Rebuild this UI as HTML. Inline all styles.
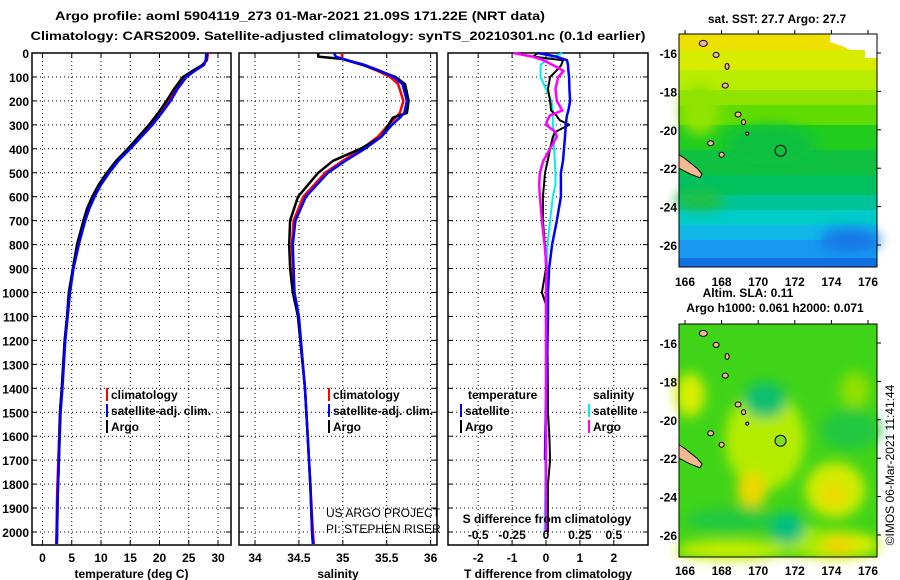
<!DOCTYPE html>
<html><head><meta charset="utf-8"><style>
body{margin:0;background:#fff;}
svg{display:block;font-family:"Liberation Sans",Arial,sans-serif;}
text{font-weight:bold;font-size:12px;fill:#000;}
</style></head><body>
<svg id="c" width="900" height="580" viewBox="0 0 900 580" xmlns="http://www.w3.org/2000/svg">
<defs>
<radialGradient id="yb" cx="0.5" cy="0.5" r="0.5"><stop offset="0" stop-color="#f0d000"/><stop offset="0.45" stop-color="#d8f000"/><stop offset="1" stop-color="#b0ec00" stop-opacity="0"/></radialGradient>
<radialGradient id="gb" cx="0.5" cy="0.5" r="0.5"><stop offset="0" stop-color="#00c080"/><stop offset="0.6" stop-color="#10c040"/><stop offset="1" stop-color="#10c040" stop-opacity="0"/></radialGradient>
<filter id="blur"><feGaussianBlur stdDeviation="6"/></filter>
</defs>
<text x="300" y="20" text-anchor="middle" font-size="14" textLength="490" lengthAdjust="spacingAndGlyphs">Argo profile: aoml 5904119_273 01-Mar-2021 21.09S 171.22E (NRT data)</text>
<text x="338" y="40" text-anchor="middle" font-size="14" textLength="615" lengthAdjust="spacingAndGlyphs">Climatology: CARS2009. Satellite-adjusted climatology: synTS_20210301.nc (0.1d earlier)</text>
<g id="plots"></g>
<g id="maps"></g>
<text transform="translate(894,465) rotate(-90)" text-anchor="middle" style="font-weight:normal" font-size="12">©IMOS 06-Mar-2021 11:41:44</text>
</svg>
<script>
const NS="http://www.w3.org/2000/svg";
const root=document.getElementById('plots');
function el(t,a,p){const e=document.createElementNS(NS,t);for(const k in a)e.setAttribute(k,a[k]);(p||root).appendChild(e);return e;}
function tx(x,y,s,anchor,extra,p){const e=el('text',Object.assign({x:x,y:y,'text-anchor':anchor||'start'},extra||{}),p);e.textContent=s;return e;}

// ---- data ----
const depthTicks=[0,100,200,300,400,500,600,700,800,900,1000,1100,1200,1300,1400,1500,1600,1700,1800,1900,2000];
const tDepth=[0,30,50,75,100,150,200,250,300,350,400,450,500,550,600,650,700,800,900,1000,1100,1200,1400,1500,1700,1850,2000,2050];
const tArgo=[28.1,28.0,27.4,25.6,24.0,22.5,21.2,19.8,18.2,16.4,14.6,12.6,11.0,9.6,8.5,7.6,7.0,5.9,5.2,4.5,4.2,3.8,3.3,3.0,2.8,2.6,2.5,2.45];
const tClim=[28.3,28.1,27.3,25.7,24.3,22.8,21.5,20.0,18.3,16.5,14.6,12.7,11.1,9.8,8.7,7.8,7.1,6.0,5.2,4.6,4.2,3.8,3.3,3.0,2.7,2.5,2.4,2.35];
const tSat=[28.0,27.9,27.6,26.0,24.6,23.1,21.9,20.4,18.8,16.9,15.0,13.0,11.4,10.0,8.9,8.0,7.3,6.2,5.3,4.7,4.3,3.9,3.4,3.1,2.8,2.6,2.5,2.45];
const sDepth=[0,15,25,50,75,100,130,200,250,270,300,350,400,450,500,600,700,800,900,1000,1100,1400,1600,1800,2000,2050];
const sArgo=[34.72,34.72,35.0,35.23,35.42,35.6,35.71,35.75,35.73,35.57,35.52,35.44,35.2,34.89,34.72,34.49,34.4,34.39,34.4,34.43,34.49,34.57,34.6,34.63,34.65,34.66];
const sClim=[34.99,34.99,35.0,35.23,35.4,35.54,35.63,35.69,35.65,35.6,35.52,35.4,35.22,35.0,34.8,34.55,34.44,34.42,34.43,34.44,34.49,34.57,34.6,34.63,34.66,34.67];
const sSat=[34.9,34.92,35.0,35.25,35.43,35.58,35.68,35.73,35.7,35.65,35.56,35.44,35.25,35.03,34.83,34.58,34.46,34.43,34.44,34.45,34.5,34.57,34.6,34.63,34.65,34.66];
const dDepth=[0,15,30,50,75,100,150,200,240,260,280,300,330,350,400,450,500,550,600,700,800,900,1000,1050,1100,1300,1500,1600,1700,1800,2000];
const dTSat=[-0.24,0.3,0.62,0.65,0.66,0.68,0.69,0.71,0.66,0.62,0.6,0.59,0.57,0.56,0.53,0.5,0.44,0.44,0.44,0.32,0.18,0.09,0.06,0.06,0.06,0.03,0.0,-0.02,-0.03,null,null];
const dTArgo=[-0.24,-0.38,0.5,0.45,0.3,0.12,0.06,0.12,0.15,0.3,0.4,0.68,0.27,0.2,0.12,0.05,-0.03,-0.06,-0.09,-0.09,-0.03,0.0,-0.12,0.0,0.03,0.05,0.06,0.1,0.12,0.06,0.06];
const dSSat=[0.12,0.06,0.0,-0.04,-0.04,-0.04,0.0,0.04,0.05,0.05,0.05,0.05,0.06,0.06,0.06,0.065,0.07,0.07,0.05,0.03,0.01,0.005,0.0,0.0,0.0,0.0,-0.005,-0.005,-0.005,-0.005,-0.01];
const dSArgo=[-0.24,-0.1,-0.02,0.05,0.13,0.09,0.07,0.08,0.12,0.03,0.01,0.0,0.07,0.08,0.03,-0.02,-0.045,-0.05,-0.045,-0.03,-0.01,0.005,0.0,0.0,0.0,0.0,0.0,0.0,0.0,0.0,0.0];
const tTicks=[0,5,10,15,20,25,30];
const sTicks=[34,34.5,35,35.5,36];
const dtTicks=[-2,-1,0,1,2];
const dsTicks=[-0.5,-0.25,0,0.25,0.5];

// ---- axes ----
const Y0=53,Y1=545;
const yD=d=>53+d*0.2395;
const xT=v=>42.5+5.85*v;
const xS=v=>255+87.8*(v-34);
const xDT=v=>546+33.9*v;
const xDS=v=>546+135.6*v;

function panel(name,x0,x1,ticks,xf,title,fmt){
  const g=el('g',{});  
  ticks.forEach(t=>{const x=xf(t);
    el('line',{x1:x,x2:x,y1:Y0,y2:Y1,stroke:'#000','stroke-dasharray':'1,3','stroke-width':1},g);
    el('line',{x1:x,x2:x,y1:Y0,y2:Y0+5,stroke:'#000'},g);el('line',{x1:x,x2:x,y1:Y1,y2:Y1-5,stroke:'#000'},g);
    const l=tx(x,562,fmt(t),'middle',{},g);});
  depthTicks.forEach(d=>{const y=yD(d);
    el('line',{x1:x0,x2:x1,y1:y,y2:y,stroke:'#000','stroke-dasharray':'1,3'},g);
    el('line',{x1:x0,x2:x0+5,y1:y,y2:y,stroke:'#000'},g);el('line',{x1:x1,x2:x1-5,y1:y,y2:y,stroke:'#000'},g);});
  el('rect',{x:x0,y:Y0,width:x1-x0,height:Y1-Y0,fill:'none',stroke:'#000','stroke-width':1.5},g);
  const tt=tx((x0+x1)/2,578,title,'middle',{},g);
  return g;
}
function line(xs,ds,xf,color,w,name){
  let d='',pen=false;
  xs.forEach((v,i)=>{if(v===null){pen=false;return;}d+=(pen?'L':'M')+xf(v).toFixed(1)+','+Math.min(yD(ds[i]),Y1).toFixed(1);pen=true;});
  const p=el('path',{d:d,fill:'none',stroke:color,'stroke-width':w,'stroke-linejoin':'round'});
  
  
}
panel('temperature',32,231,tTicks,xT,'temperature (deg C)',String);
panel('salinity',239,437,sTicks,xS,'salinity',String);
panel('difference',448,648,dtTicks,xDT,'T difference from climatology',String);
depthTicks.forEach(d=>{const l=tx(29,yD(d)+5,String(d),'end');});

line(tClim,tDepth,xT,'#f00',2.5,'temp-climatology-line');
line(tArgo,tDepth,xT,'#000',2.5,'temp-argo-line');
line(tSat,tDepth,xT,'#00f',2.5,'temp-satellite-line');
line(sClim,sDepth,xS,'#f00',2.5,'sal-climatology-line');
line(sArgo,sDepth,xS,'#000',2.5,'sal-argo-line');
line(sSat,sDepth,xS,'#00f',2.5,'sal-satellite-line');
line(dSSat,dDepth,xDS,'#0ee',2,'s-diff-satellite-line');
line(dTArgo,dDepth,xDT,'#000',2,'t-diff-argo-line');
line(dTSat,dDepth,xDT,'#00f',2.5,'t-diff-satellite-line');
line(dSArgo,dDepth,xDS,'#f0f',2.5,'s-diff-argo-line');

function leg(x,y,color,label,name){el('rect',{x:x,y:y-11,width:2,height:13,fill:color});const t=tx(x+5,y,label,'start',{'font-size':13});}
leg(106,399,'#f00','climatology','temp-legend-climatology');
leg(106,415,'#00f','satellite-adj. clim.','temp-legend-satellite');
leg(106,431,'#000','Argo','temp-legend-argo');
leg(328,399,'#f00','climatology','sal-legend-climatology');
leg(328,415,'#00f','satellite-adj. clim.','sal-legend-satellite');
leg(328,431,'#000','Argo','sal-legend-argo');
tx(468,399,'temperature','start',{'font-size':13});
tx(593,399,'salinity','start',{'font-size':13});
leg(460,415,'#00f','satellite','diff-legend-t-satellite');
leg(460,431,'#000','Argo','diff-legend-t-argo');
leg(588,415,'#0ee','satellite','diff-legend-s-satellite');
leg(588,431,'#f0f','Argo','diff-legend-s-argo');
tx(326,517,'US ARGO PROJECT','start',{style:'font-weight:normal'});
tx(326,533,'PI: STEPHEN RISER','start',{style:'font-weight:normal'});
tx(547,523,'S difference from climatology','middle',{'font-size':13});
dsTicks.forEach(v=>{const l=tx(xDS(v),539,String(v),'middle');});

// ---- maps ----
const M=document.getElementById('maps');
const lonTicks=[166,168,170,172,174,176];
const latTicks=[-16,-18,-20,-22,-24,-26];
const mx=l=>685+18.3*(l-166);
const my=(la,top)=>top+19+19.2*(-16-la);
function islands(top,g){
  const pts=[[167,-15.5,4,3],[167.7,-16.1,3,2.5],[168.3,-16.7,2,3],[168.2,-17.7,3,2.5],[168.9,-19.2,3,2.5],[169.2,-19.6,2,2.5],[167.4,-20.7,3,2.5],[168,-21.3,2.5,2.5],[169.4,-20.2,1.5,1.5]];
  pts.forEach(p=>el('ellipse',{cx:mx(p[0]),cy:my(p[1],top),rx:p[2],ry:p[3],fill:'#f4b890',stroke:'#000','stroke-width':1},g));
  el('polygon',{points:[[679,my(-21.3,top)],[685,my(-21.5,top)],[697,my(-22.0,top)],[702,my(-22.3,top)],[700,my(-22.5,top)],[690,my(-22.3,top)],[679,my(-22.0,top)]].map(p=>p.join(',')).join(' '),fill:'#f4b890',stroke:'#000'},g);
}
function axesMap(g,top,bottom,labY){
  el('rect',{x:679,y:top,width:198,height:bottom-top,fill:'none',stroke:'#000','stroke-width':1},g);
  lonTicks.forEach(l=>{el('line',{x1:mx(l),x2:mx(l),y1:top-4,y2:top,stroke:'#000'},g);
    const t=tx(mx(l),labY,String(l),'middle',{'font-size':13},g);});
  latTicks.forEach(l=>{const y=my(l,top);el('line',{x1:877,x2:881,y1:y,y2:y,stroke:'#000'},g);
    const t=tx(677,y+5,String(l),'end',{'font-size':13},g);});
}
const g1=el('g',{},M);
const bands=[[34,'#eee000'],[50,'#d8ec00'],[70,'#b8ec00'],[90,'#90e400'],[105,'#60dc00'],[125,'#20cc20'],[150,'#10c040'],[175,'#00c060'],[195,'#00c498'],[210,'#00ccc8'],[225,'#10b8e8'],[240,'#1898f0'],[258,'#1070e0']];
bands.forEach((b,i)=>{const y2=i<bands.length-1?bands[i+1][0]:267;el('rect',{x:679,y:b[0],width:198,height:y2-b[0]+0.5,fill:b[1]},g1);});
const g1c=el('g',{filter:'url(#blur)'},g1);
el('ellipse',{cx:770,cy:145,rx:45,ry:20,fill:'#10c040'},g1c);
el('ellipse',{cx:700,cy:110,rx:20,ry:25,fill:'#90e400'},g1c);
el('ellipse',{cx:850,cy:240,rx:30,ry:12,fill:'#1878e8'},g1c);
el('ellipse',{cx:700,cy:200,rx:25,ry:10,fill:'#20c040'},g1c);
el('polygon',{points:'830,34 877,34 877,58 865,58 865,50 850,50 842,46 830,42',fill:'#fff'},g1);
islands(34,g1);axesMap(g1,34,267,286);
el('circle',{cx:mx(171.22),cy:my(-21.09,34),r:5.5,fill:'none',stroke:'#000','stroke-width':1},g1);
tx(777,23,'sat. SST: 27.7 Argo: 27.7','middle',{'font-size':13},g1);
tx(748,297,'Altim. SLA: 0.11','middle',{'font-size':12},g1);
tx(775,312,'Argo h1000: 0.061 h2000: 0.071','middle',{'font-size':12},g1);
const g2=el('g',{},M);
el('rect',{x:679,y:324,width:198,height:233,fill:'#40d418'},g2);
const g2c=el('g',{filter:'url(#blur)'},g2);
[[690,395,15,22,'#d8ee00'],[765,440,40,50,'#b4ec00'],[752,490,15,18,'#ecd800'],[835,490,30,28,'#d0ec00'],[833,495,12,12,'#f0d800'],[835,545,45,14,'#d8ee00'],[838,545,16,8,'#f0d000'],[730,550,55,10,'#c8ee00'],[800,540,25,15,'#a8ea00']].forEach(b=>el('ellipse',{cx:b[0],cy:b[1],rx:b[2],ry:b[3],fill:b[4]},g2c));
[[765,400,22,18,'#10c070'],[787,528,18,16,'#00c080'],[730,520,45,12,'#20c840'],[855,390,15,18,'#90e000'],[850,430,30,20,'#20c840']].forEach(b=>el('ellipse',{cx:b[0],cy:b[1],rx:b[2],ry:b[3],fill:b[4]},g2c));
islands(324,g2);axesMap(g2,324,557,575);
el('circle',{cx:mx(171.22),cy:my(-21.09,324),r:5.5,fill:'#80e020',stroke:'#000'},g2);
</script>
</body></html>
